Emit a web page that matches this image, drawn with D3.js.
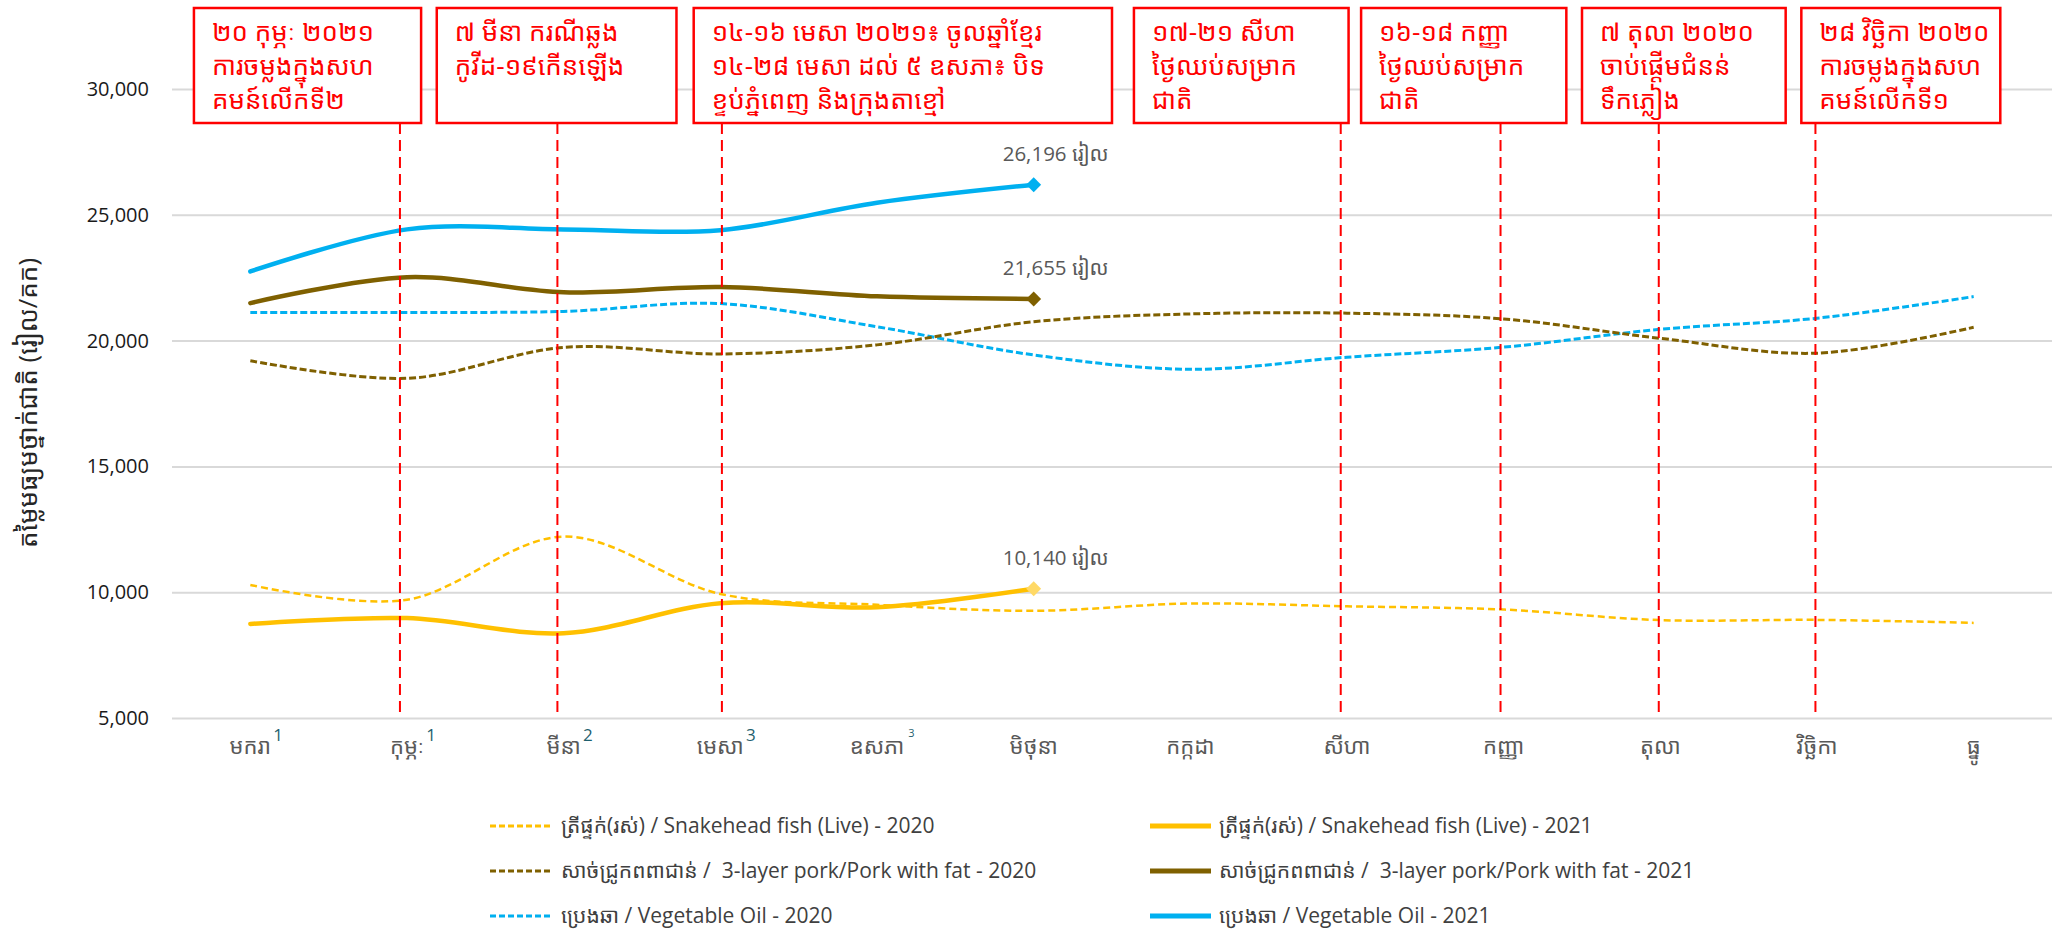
<!DOCTYPE html>
<html><head><meta charset="utf-8">
<script src="https://cdn.jsdelivr.net/npm/d3@7"></script>
<style>
html,body{margin:0;padding:0;background:#fff;}
svg{display:block;}
.kh{font-family:"Open Sans","Khmer OS","Khmer OS System","Noto Sans Khmer","Noto Serif Khmer",sans-serif;}
</style></head><body>
<svg id="chart" width="2054" height="931"></svg>
<script>
// ---------------- DATA ----------------
const months = ["មករា","កុម្ភៈ","មីនា","មេសា","ឧសភា","មិថុនា","កក្កដា","សីហា","កញ្ញា","តុលា","វិច្ឆិកា","ធ្នូ"];
const monthNotes = ["1","1","2","3","3","","","","","","",""];
const yTicks = [5000,10000,15000,20000,25000,30000];

const fish2020 = [10290, 9700, 12210, 9930, 9500, 9260, 9550, 9440, 9310, 8890, 8900, 8780];
const fish2021 = [8740, 8970, 8370, 9560, 9400, 10140];
const pork2020 = [19200, 18500, 19730, 19470, 19830, 20750, 21060, 21090, 20860, 20090, 19500, 20530];
const pork2021 = [21490, 22520, 21920, 22130, 21760, 21655];
const oil2020  = [21120, 21120, 21160, 21470, 20550, 19430, 18860, 19340, 19740, 20450, 20890, 21750];
const oil2021  = [22750, 24420, 24420, 24390, 25480, 26196];

const seriesNames = [
  "ត្រីផ្ទក់(រស់) / Snakehead fish (Live) - 2020",
  "ត្រីផ្ទក់(រស់) / Snakehead fish (Live) - 2021",
  "សាច់ជ្រូកពពាជាន់ /  3-layer pork/Pork with fat - 2020",
  "សាច់ជ្រូកពពាជាន់ /  3-layer pork/Pork with fat - 2021",
  "ប្រេងឆា / Vegetable Oil - 2020",
  "ប្រេងឆា / Vegetable Oil - 2021"
];
const unitLabel = "រៀល";
const yTitle = "តម្លៃមធ្យមថ្នាក់ជាតិ (រៀល/គក)";

const eventMonths = ["កុម្ភៈ","មីនា","មេសា","សីហា","កញ្ញា","តុលា","វិច្ឆិកា"];
const eventTexts = [
  ["២០ កុម្ភៈ ២០២១","ការចម្លងក្នុងសហ","គមន៍លើកទី២"],
  ["៧ មីនា ករណីឆ្លង","កូវីដ-១៩កើនឡើង"],
  ["១៤-១៦ មេសា ២០២១៖ ចូលឆ្នាំខ្មែរ","១៤-២៨ មេសា ដល់ ៥ ឧសភា៖ បិទ","ខ្ទប់ភ្នំពេញ និងក្រុងតាខ្មៅ"],
  ["១៧-២១ សីហា","ថ្ងៃឈប់សម្រាក","ជាតិ"],
  ["១៦-១៨ កញ្ញា","ថ្ងៃឈប់សម្រាក","ជាតិ"],
  ["៧ តុលា ២០២០","ចាប់ផ្តើមជំនន់","ទឹកភ្លៀង"],
  ["២៨ វិច្ឆិកា ២០២០","ការចម្លងក្នុងសហ","គមន៍លើកទី១"]
];

// ---------------- LAYOUT / STYLE ----------------
const PL = 172, PR = 2052, PT = 89, PB = 718;
const boxSpans = [[0.14,1.59],[1.69,3.22],[3.33,6.0],[6.14,7.51],[7.59,8.90],[9.0,10.3],[10.4,11.67]]; // in band units
const eventShift = [-0.045,-0.04,0.01,-0.04,-0.02,-0.01,-0.01]; // in band units
const BOX_TOP = 8, BOX_BOTTOM = 123;

const svg = d3.select("#chart");
const x = d3.scaleBand().domain(months).range([PL, PR]).padding(0);
const cx = m => x(m) + x.bandwidth()/2;
const y = d3.scaleLinear().domain([5000, 30000]).range([PB, PT]);

const series = [
  {values: oil2021,  color:"#00B0F0", w:4.5, dash:null, label:seriesNames[5], marker:"#00B0F0"},
  {values: pork2021, color:"#7F6000", w:4.5, dash:null, label:seriesNames[3], marker:"#7F6000"},
  {values: fish2021, color:"#FFC000", w:4.5, dash:null, label:seriesNames[1], marker:"#FFD966"},
  {values: oil2020,  color:"#00B0F0", w:3, dash:"7,3", label:seriesNames[4]},
  {values: pork2020, color:"#7F6000", w:3, dash:"7,3", label:seriesNames[2]},
  {values: fish2020, color:"#FFC000", w:2.5, dash:"7,4", label:seriesNames[0]}
];

// ---------------- Y AXIS + GRID ----------------
const gy = svg.append("g").attr("transform", `translate(${PL},0)`)
  .call(d3.axisLeft(y).tickValues(yTicks).tickSize(-(PR-PL)).tickPadding(23).tickFormat(d3.format(",")));
gy.select(".domain").remove();
gy.selectAll(".tick line").attr("stroke","#d9d9d9").attr("stroke-width",2);
gy.selectAll(".tick text").attr("font-family","'Open Sans',sans-serif").attr("font-size",20).attr("fill","#1a1a1a");

// Y title
svg.append("text").attr("class","kh")
  .attr("transform","translate(37,403) rotate(-90)")
  .attr("text-anchor","middle").attr("font-size",26).attr("fill","#262626")
  .text(yTitle);

// ---------------- X AXIS ----------------
const gx = svg.append("g").attr("transform", `translate(0,${PB})`)
  .call(d3.axisBottom(x).tickSize(0).tickPadding(20));
gx.select(".domain").remove();
gx.selectAll(".tick text").attr("class","kh").attr("font-size",22).attr("fill","#595959");
gx.selectAll(".tick").each(function(d,i){
  const note = monthNotes[i];
  if(!note) return;
  const t = d3.select(this).select("text");
  const w = t.node().getComputedTextLength();
  d3.select(this).append("text")
    .attr("x", w/2 + 7).attr("y", i===4 ? 19 : 23)
    .attr("font-family","'Open Sans',sans-serif")
    .attr("font-size", i===4 ? 11 : 17)
    .attr("fill","#1F5F6E")
    .text(note);
});

// ---------------- LINES ----------------
const line = d3.line().x((d,i)=>cx(months[i])).y(d=>y(d)).curve(d3.curveCardinal.tension(0));
const gl = svg.append("g");
series.forEach(s=>{
  gl.append("path").attr("d", line(s.values)).attr("fill","none")
    .attr("stroke", s.color).attr("stroke-width", s.w)
    .attr("stroke-dasharray", s.dash).attr("stroke-linecap", s.dash ? "butt" : "round");
  if(!s.dash){
    const i = s.values.length-1, v = s.values[i];
    gl.append("path").attr("d", d3.symbol(d3.symbolSquare, 112)())
      .attr("transform", `translate(${cx(months[i])},${y(v)}) rotate(45)`)
      .attr("fill", s.marker);
    gl.append("text").attr("class","kh")
      .attr("x", cx(months[i]) - 31).attr("y", y(v) - 24)
      .attr("font-size", 20.5).attr("fill","#595959")
      .text(`${d3.format(",")(v)} ${unitLabel}`);
  }
});

// ---------------- EVENTS ----------------
const ge = svg.append("g");
eventMonths.forEach((m,k)=>{
  const lx = cx(m) + eventShift[k]*x.step();
  ge.append("line").attr("x1", lx).attr("x2", lx)
    .attr("y1", BOX_BOTTOM).attr("y2", PB)
    .attr("stroke","#FF0000").attr("stroke-width",2).attr("stroke-dasharray","11,6");
  const x0 = PL + boxSpans[k][0]*x.step(), x1 = PL + boxSpans[k][1]*x.step();
  ge.append("rect").attr("x", x0).attr("y", BOX_TOP).attr("width", x1-x0).attr("height", BOX_BOTTOM-BOX_TOP)
    .attr("fill","#fff").attr("stroke","#FF0000").attr("stroke-width",2.5);
  const t = ge.append("text").attr("class","kh").attr("font-size",26).attr("fill","#FF0000");
  eventTexts[k].forEach((ln,j)=>{
    t.append("tspan").attr("x", x0+18).attr("y", BOX_TOP + 33 + j*34).text(ln);
  });
});

// ---------------- LEGEND ----------------
const legX = [[490,552,561],[1150,1211,1219]];
const legY = [826, 871, 916];
const lg = svg.append("g");
[[5,2],[4,1],[3,0]].forEach((pair,r)=>{
  pair.forEach((si,c)=>{
    const s = series[si];
    lg.append("line").attr("x1",legX[c][0]).attr("x2",legX[c][1]).attr("y1",legY[r]).attr("y2",legY[r])
      .attr("stroke",s.color).attr("stroke-width", s.dash ? 3 : 5).attr("stroke-dasharray", s.dash ? "6,3" : null);
    lg.append("text").attr("class","kh").attr("x",legX[c][2]).attr("y",legY[r]).attr("dy","0.35em")
      .attr("font-size",21).attr("fill","#404040").style("white-space","pre").text(s.label);
  });
});
</script>
</body></html>
